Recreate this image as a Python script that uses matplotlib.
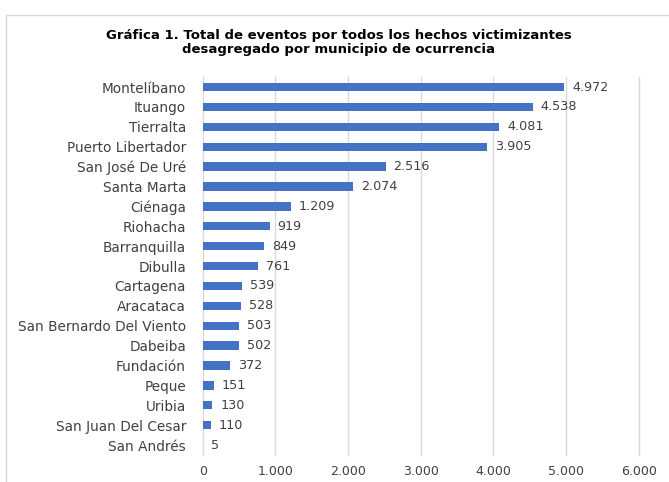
import matplotlib
matplotlib.use("Agg")
import matplotlib.pyplot as plt
from matplotlib.patches import Rectangle

municipios = [
    "Montelíbano", "Ituango", "Tierralta", "Puerto Libertador", "San José De Uré",
    "Santa Marta", "Ciénaga", "Riohacha", "Barranquilla", "Dibulla",
    "Cartagena", "Aracataca", "San Bernardo Del Viento", "Dabeiba", "Fundación",
    "Peque", "Uribia", "San Juan Del Cesar", "San Andrés",
]
eventos = [4972, 4538, 4081, 3905, 2516, 2074, 1209, 919, 849, 761,
           539, 528, 503, 502, 372, 151, 130, 110, 5]
x_ticks = [0, 1000, 2000, 3000, 4000, 5000, 6000]

BAR_COLOR = "#4472C4"
TEXT_COLOR = "#404040"


def miles(v):
    return f"{v:,}".replace(",", ".")


fig = plt.figure(figsize=(6.69, 4.82), dpi=100)
ax = fig.add_axes([0.303, 0.056, 0.652, 0.784])

# chart frame (Excel style)
fig.patches.append(Rectangle((6 / 669, -0.1), 1.2, 1 - 15 / 482 + 0.1,
                             transform=fig.transFigure, fill=False,
                             edgecolor="#d9d9d9", linewidth=1.0))

y = list(range(len(municipios)))
ax.barh(y, eventos, height=0.42, color=BAR_COLOR, zorder=3)
for yi, v in zip(y, eventos):
    ax.text(v + 110, yi, miles(v), va="center", ha="left",
            fontsize=9.2, color=TEXT_COLOR)

ax.set_ylim(len(municipios) - 0.5, -0.5)
ax.set_xlim(0, 6000)
ax.set_yticks(y)
ax.set_yticklabels(municipios, fontsize=9.8, color=TEXT_COLOR)
ax.set_xticks(x_ticks)
ax.set_xticklabels([miles(t) for t in x_ticks], fontsize=9, color=TEXT_COLOR)
ax.tick_params(length=0, pad=7, axis="x")
ax.tick_params(length=0, pad=12, axis="y")
ax.grid(axis="x", color="#d9d9d9", linewidth=1.0, zorder=0)
for gl in ax.get_xgridlines():
    gl.set_clip_on(False)
for s in ax.spines.values():
    s.set_visible(False)

fig.text(0.506, 0.911,
         "Gráfica 1. Total de eventos por todos los hechos victimizantes\n"
         "desagregado por municipio de ocurrencia",
         ha="center", va="center", fontsize=9.5, fontweight="bold",
         color="black", linespacing=1.1)

fig.savefig("out.png", dpi=100)
